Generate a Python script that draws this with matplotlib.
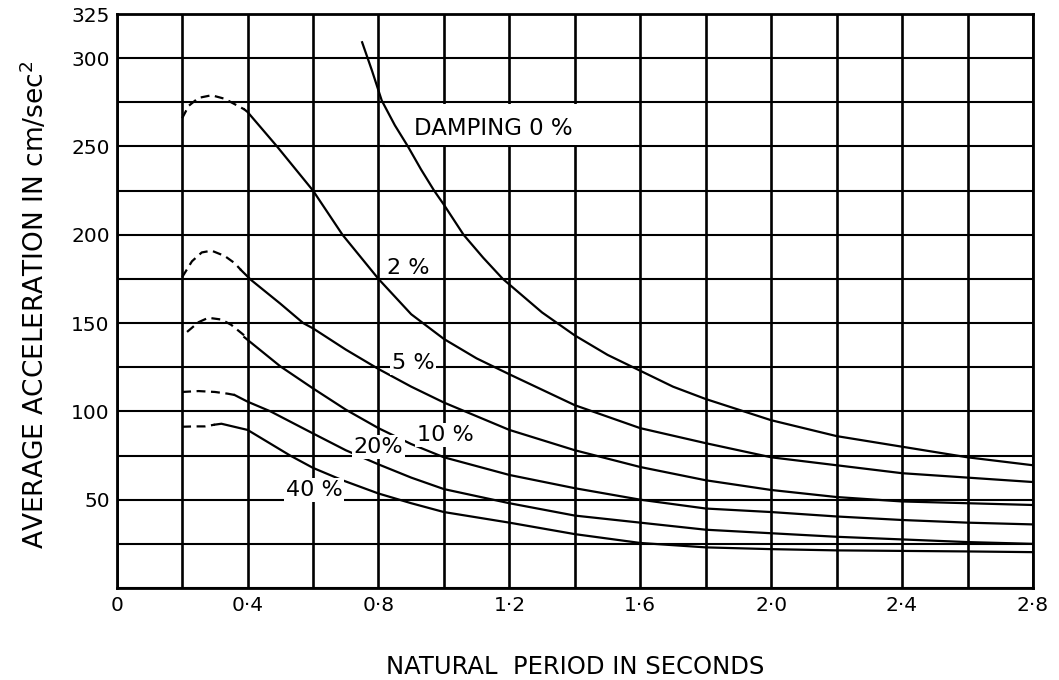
import matplotlib.pyplot as plt
from matplotlib.patches import Rectangle
import numpy as np

# natural period (s) and average acceleration (cm/sec^2)
# damping 0 % (only a solid part)
t_0 = [0.75, 0.78, 0.81, 0.85, 0.89, 0.93, 0.97, 1.0, 1.06, 1.12, 1.18, 1.3,
       1.4, 1.5, 1.6, 1.7, 1.8, 2.0, 2.2, 2.4, 2.6, 2.8]
a_0 = [309, 293, 276, 262, 250, 237, 225, 217, 200, 187, 175, 156,
       143, 132, 123, 114, 107, 95, 86, 80, 74, 69.5]

# damping 2 %
t_2_dash = [0.2, 0.22, 0.25, 0.29, 0.33, 0.37, 0.39]
a_2_dash = [266, 273, 277.5, 279, 277, 273, 271]
t_2 = [0.39, 0.4, 0.49, 0.6, 0.69, 0.8, 0.9, 1.0, 1.1, 1.2, 1.4, 1.6, 1.8,
       2.0, 2.2, 2.4, 2.6, 2.8]
a_2 = [271, 269.5, 250, 225, 200, 175, 155, 141, 130, 121, 103.5, 90.5, 82,
       74, 69.5, 65, 62.5, 60]

# damping 5 %
t_5_dash = [0.2, 0.23, 0.26, 0.29, 0.33, 0.36, 0.38]
a_5_dash = [176, 185, 190, 191, 188, 184, 180]
t_5 = [0.38, 0.41, 0.5, 0.57, 0.6, 0.7, 0.8, 0.9, 1.0, 1.2, 1.4, 1.6, 1.8,
       2.0, 2.2, 2.4, 2.6, 2.8]
a_5 = [180, 174.5, 161, 150, 147, 135, 124, 114, 105, 89.5, 78, 68.5, 61,
       55.5, 51.5, 49, 48, 47]

# damping 10 %
t_10_dash = [0.215, 0.25, 0.28, 0.32, 0.35, 0.37, 0.39]
a_10_dash = [145, 150.5, 153, 152, 149, 146, 143]
t_10 = [0.39, 0.4, 0.5, 0.6, 0.7, 0.8, 0.9, 1.0, 1.2, 1.4, 1.6, 1.8, 2.0,
        2.2, 2.4, 2.6, 2.8]
a_10 = [142, 140.5, 125.5, 113, 101, 90.5, 81.5, 74, 64, 56.5, 50, 45, 43,
        40.5, 38.5, 37, 36]

# damping 20 %
t_20_dash = [0.2, 0.25, 0.3, 0.34, 0.36]
a_20_dash = [111, 111.5, 111, 110, 109.3]
t_20 = [0.36, 0.4, 0.47, 0.6, 0.7, 0.8, 0.9, 1.0, 1.2, 1.4, 1.6, 1.8, 2.0,
        2.2, 2.4, 2.6, 2.8]
a_20 = [109.3, 105.5, 100, 87.5, 78, 70, 62.5, 56, 48, 41, 37, 33, 31,
        29, 27.5, 26, 25]

# damping 40 %
t_40_dash = [0.2, 0.24, 0.27, 0.3]
a_40_dash = [91.3, 91.5, 91.5, 92.5]
t_40 = [0.3, 0.32, 0.4, 0.53, 0.6, 0.69, 0.8, 0.9, 1.0, 1.2, 1.4, 1.6, 1.8,
        2.0, 2.2, 2.4, 2.6, 2.8]
a_40 = [92.5, 93, 89.5, 75, 68, 61, 53.5, 48, 43, 37, 30.5, 25.5, 23,
        22, 21.3, 21, 20.7, 20.3]

x_ticks = np.arange(0, 2.81, 0.2)
x_labels = ['0', '', '0·4', '', '0·8', '', '1·2', '', '1·6', '', '2·0', '',
            '2·4', '', '2·8']
y_ticks = np.arange(0, 326, 25)
y_labels = ['', '', '50', '', '100', '', '150', '', '200', '', '250', '',
            '300', '325']

# curve labels: text, left x, centre y, white patch behind it or not
curve_labels = [
    ('2 %', 0.825, 181, False),
    ('5 %', 0.84, 127.5, True),
    ('10 %', 0.917, 86.5, True),
    ('20%', 0.724, 80, True),
    ('40 %', 0.516, 55.5, True),
]


def plotChart():
    fig = plt.figure(figsize=(10.59, 6.8), dpi=100)
    ax = fig.add_axes([0.1102, 0.1353, 0.8652, 0.8441])

    ax.set_xlim(0, 2.8)
    ax.set_ylim(0, 325)
    ax.set_xticks(x_ticks)
    ax.set_xticklabels(x_labels)
    ax.set_yticks(y_ticks)
    ax.set_yticklabels(y_labels)
    ax.tick_params(axis='both', length=0, labelsize=14.5, colors='black')
    ax.tick_params(axis='x', pad=6)
    ax.tick_params(axis='y', pad=5)

    ax.set_axisbelow(True)
    ax.xaxis.grid(True, color='black', linewidth=1.9)
    ax.yaxis.grid(True, color='black', linewidth=1.5)
    for side in ax.spines.values():
        side.set_linewidth(2)
        side.set_color('black')

    # white gap in the grid behind the "DAMPING" label
    ax.add_patch(Rectangle((0.82, 250.8), 0.76, 23.4, facecolor='white',
                           edgecolor='none', zorder=1))

    style = dict(color='black', linewidth=1.6, zorder=3)
    dash = (0, (4, 2.5))
    ax.plot(t_0, a_0, **style)
    for td, ad, ts, a_s in [(t_2_dash, a_2_dash, t_2, a_2),
                            (t_5_dash, a_5_dash, t_5, a_5),
                            (t_10_dash, a_10_dash, t_10, a_10),
                            (t_20_dash, a_20_dash, t_20, a_20),
                            (t_40_dash, a_40_dash, t_40, a_40)]:
        ax.plot(td, ad, linestyle=dash, **style)
        ax.plot(ts, a_s, **style)

    ax.text(0.908, 260, 'DAMPING 0 %', fontsize=16.5, ha='left', va='center',
            zorder=4)
    for txt, x, y, masked in curve_labels:
        box = dict(facecolor='white', edgecolor='none', pad=1.5) if masked else None
        ax.text(x, y, txt, fontsize=16, ha='left', va='center', zorder=4,
                bbox=box)

    fig.text(35 / 1059, 1 - 305 / 680, 'AVERAGE ACCELERATION IN cm/sec$^2$',
             rotation=90, fontsize=19, ha='center', va='center')
    fig.text(575 / 1059, 1 - 667 / 680, 'NATURAL  PERIOD IN SECONDS',
             fontsize=17.5, ha='center', va='center')

    fig.savefig('out.png', dpi=100)


if __name__ == "__main__":
    plotChart()
